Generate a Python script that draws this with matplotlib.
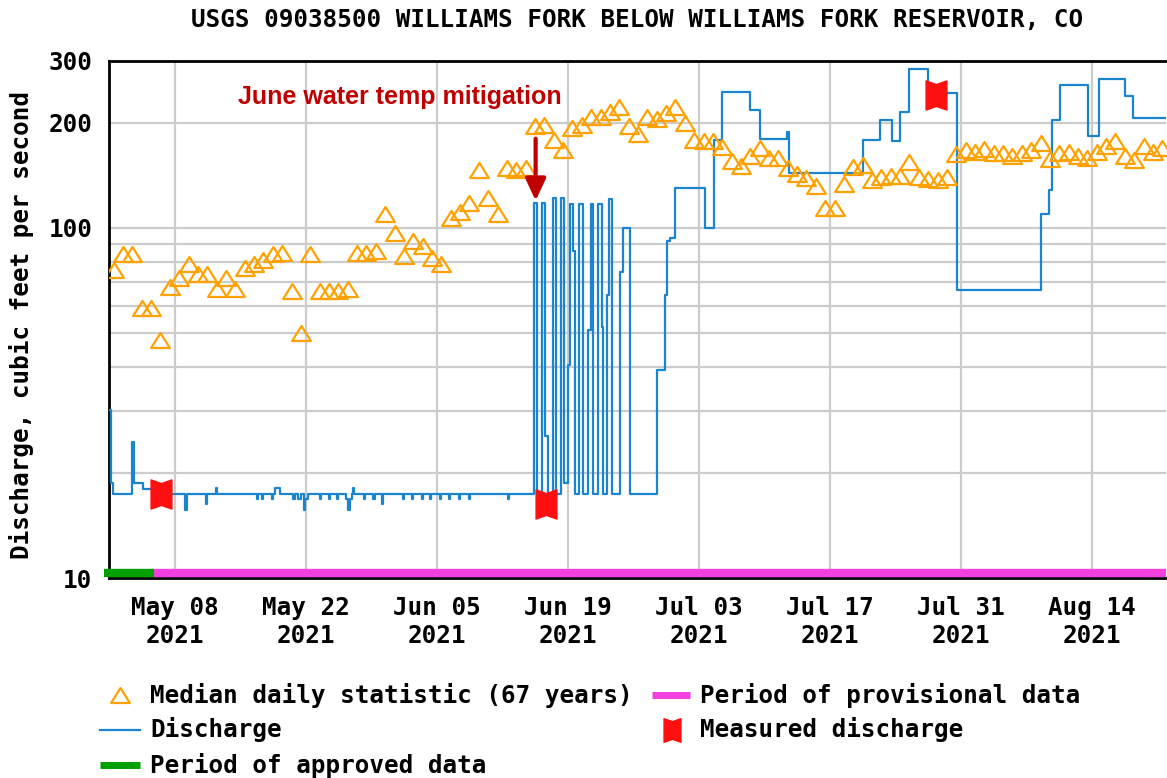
import numpy as np
import pandas as pd
import matplotlib
matplotlib.use('Agg')
import matplotlib.pyplot as plt
from matplotlib.path import Path
from matplotlib.lines import Line2D
from matplotlib.ticker import NullFormatter

start = pd.Timestamp('2021-05-01')

# median daily statistic, one value per day from May 01
median_cfs = [76, 84, 84, 59, 59, 48, 68, 72, 79, 74, 74, 67, 72, 67, 77, 79, 81, 84, 85, 66,
              50, 84, 66, 66, 66, 67, 85, 85, 86, 110, 97, 83, 92, 89, 82, 79, 107, 111, 118, 146,
              122, 110, 148, 146, 148, 195, 197, 178, 167, 193, 197, 208, 208, 215, 221, 196, 186, 208, 205, 213,
              222, 200, 178, 177, 177, 170, 155, 150, 161, 169, 159, 159, 148, 143, 139, 132, 114, 114, 134, 149,
              151, 137, 140, 141, 141, 154, 140, 138, 137, 140, 163, 167, 165, 168, 164, 164, 161, 164, 167, 175,
              157, 164, 165, 161, 158, 165, 172, 177, 161, 156, 172, 165, 169]

# discharge, step changes: days since May 01 00:00 and cfs
q_days = [0.0, 0.2, 0.45, 2.5, 2.62, 3.6, 4.7,
          8.1, 8.3, 10.4, 10.5, 11.4, 11.5, 15.8, 15.9, 16.3, 16.4, 17.4, 17.5, 17.7, 18.3,
          19.6, 19.9, 20.2, 20.5, 20.8, 20.9, 21.3, 22.5, 22.6, 23.5, 23.6, 24.4, 24.5,
          25.3, 25.5, 25.7, 26.0, 26.1, 26.2, 27.2, 27.3, 28.2, 28.4, 29.2, 29.3,
          31.4, 31.5, 32.4, 32.5, 33.4, 33.5, 34.3, 34.4, 35.4, 35.5, 36.3, 36.4,
          37.4, 37.5, 38.4, 38.6, 42.6, 42.7,
          45.44, 45.69, 46.23, 46.58, 46.9, 47.47, 47.72, 48.26, 48.55, 48.61,
          49.07, 49.25, 49.6, 49.79, 50.25, 50.68, 51.21, 51.45, 51.74, 52.28, 52.7, 52.81,
          53.17, 53.45, 53.70, 54.6, 54.85, 55.66, 58.5, 59.4, 59.6, 59.9, 60.5, 63.7, 64.6,
          65.46, 68.5, 69.5, 72.4, 72.6, 80.5, 82.4, 83.6, 84.5, 85.5, 87.5, 88.0, 90.56,
          99.6, 100.4, 100.7, 101.6, 104.6, 105.7, 108.5, 109.4, 113.0]
q_cfs = [30.2, 18.7, 17.4, 24.4, 18.7, 18.0, 17.4,
         15.6, 17.4, 16.3, 17.4, 18.1, 17.4, 16.8, 17.4, 16.8, 17.4, 16.8, 17.4, 18.1, 17.4,
         16.8, 17.4, 16.8, 17.4, 15.6, 16.8, 17.4, 16.8, 17.4, 16.8, 17.4, 16.8, 17.4,
         16.8, 15.6, 16.8, 17.4, 18.1, 17.4, 16.8, 17.4, 16.8, 17.4, 16.3, 17.4,
         16.8, 17.4, 16.8, 17.4, 16.8, 17.4, 16.8, 17.4, 16.8, 17.4, 16.8, 17.4,
         16.8, 17.4, 16.8, 17.4, 16.8, 17.4,
         118, 17.4, 118, 25.5, 17.4, 122, 17.4, 122, 118, 18.7,
         40.7, 117, 86, 17.4, 117, 17.4, 51, 117, 17.4, 117, 52, 17.4,
         64.5, 121, 17.4, 75, 100, 17.4, 39.4, 64.5, 91.7, 93.5, 130.5, 100, 178,
         244, 218, 180, 188, 144, 178, 204, 177, 215, 284, 225, 243, 66.6,
         109.7, 128, 204, 256, 183, 266, 238, 206, 206]

meas_days = [5.56, 46.69, 88.35]
meas_cfs = [17.4, 16.3, 240]

approved_end = 4.8
x_end = 112.9

W, H = 1167, 778
font = 'DejaVu Sans Mono'
fs = 17.5


def day(t):
    return start + pd.to_timedelta(np.asarray(t, dtype=float), unit='D')


median_dates = pd.date_range('2021-05-01 12:00', periods=len(median_cfs), freq='D')

fig = plt.figure(figsize=(W / 100, H / 100), dpi=100)
ax = fig.add_axes([109 / W, 1 - 578 / H, 1057 / W, 517 / H])

tri = Path([(0, 0.8), (-1, -0.8), (1, -0.8), (0, 0.8)], closed=True)
meas = Path([(-1, -1.4), (0, -1.05), (1, -1.4), (1, 1.4), (0, 1.05),
             (-1, 1.4), (-1, -1.4)], closed=True)

ax.plot(day(q_days), q_cfs, drawstyle='steps-post', color='#1a84cf', lw=1.6, zorder=3)
ax.plot(median_dates, median_cfs, ls='none', marker=tri, ms=13.5, mfc='none',
        mec='#ffa200', mew=1.6, zorder=4)
ax.plot(day(meas_days), meas_cfs, ls='none', marker=meas, ms=21, color='#ff1010', zorder=5)

# period of approved / provisional data
xt = ax.get_xaxis_transform()
ax.plot(day([-0.55, approved_end]), [0.0097, 0.0097], transform=xt, color='#00a000',
        lw=6, solid_capstyle='butt', clip_on=False, zorder=6)
ax.plot(day([approved_end, x_end]), [0.0097, 0.0097], transform=xt, color='#f23fdf',
        lw=6, solid_capstyle='butt', clip_on=False, zorder=6)

ax.set_yscale('log')
ax.set_ylim(10, 300)
ax.set_xlim(day(0), day(x_end))
ax.set_yticks([10, 100, 200, 300])
ax.set_yticklabels(['10', '100', '200', '300'])
ax.set_yticks([20, 30, 40, 50, 60, 70, 80, 90], minor=True)
ax.yaxis.set_minor_formatter(NullFormatter())

xticks = pd.date_range('2021-05-08', periods=8, freq='14D')
ax.set_xticks(xticks)
ax.set_xticklabels([d.strftime('%b %d\n%Y') for d in xticks])

ax.grid(True, which='both', color='#cccccc', lw=1.6, zorder=0)
ax.set_axisbelow(True)
ax.tick_params(which='both', length=0)
ax.tick_params(axis='x', pad=13)
ax.tick_params(axis='y', pad=12)
for lab in ax.get_xticklabels() + ax.get_yticklabels():
    lab.set_fontfamily(font)
    lab.set_fontweight('bold')
    lab.set_fontsize(fs)
for s in ['left', 'top', 'bottom']:
    ax.spines[s].set_linewidth(2)
    ax.spines[s].set_color('black')
ax.spines['right'].set_visible(False)

ax.annotate('', xy=(day(45.57), 119.7), xytext=(day(45.57), 180),
            arrowprops=dict(arrowstyle='-|>,head_length=0.6,head_width=0.28', color='#c00000',
                            lw=3, mutation_scale=22, shrinkA=0, shrinkB=0), zorder=7)
ax.text(day(31.1), 226, 'June water temp mitigation', color='#c00000', fontsize=18,
        fontweight='bold', family='Liberation Sans', ha='center', va='baseline', zorder=7)

fig.text(637 / W, 1 - 20 / H, 'USGS 09038500 WILLIAMS FORK BELOW WILLIAMS FORK RESERVOIR, CO',
         ha='center', va='center', family=font, fontweight='bold', fontsize=fs)
fig.text(22 / W, 1 - 325 / H, 'Discharge, cubic feet per second', rotation=90,
         ha='center', va='center', family=font, fontweight='bold', fontsize=fs)

# legend
def ly(y):
    return 1 - y / H

fig.add_artist(Line2D([120 / W], [ly(695)], marker=tri, ms=13.5, mfc='none', mec='#ffa200', mew=1.6))
fig.add_artist(Line2D([100 / W, 140 / W], [ly(730)] * 2, color='#1a84cf', lw=1.6))
fig.add_artist(Line2D([100 / W, 140 / W], [ly(765)] * 2, color='#00a000', lw=5, solid_capstyle='butt'))
fig.add_artist(Line2D([652 / W, 690 / W], [ly(695)] * 2, color='#f23fdf', lw=5, solid_capstyle='butt'))
fig.add_artist(Line2D([672 / W], [ly(730)], marker=meas, ms=17, color='#ff1010', ls='none'))

leg_items = [(150, 695, 'Median daily statistic (67 years)'),
             (150, 730, 'Discharge'),
             (150, 765, 'Period of approved data'),
             (700, 695, 'Period of provisional data'),
             (700, 730, 'Measured discharge')]
for x, y, s in leg_items:
    fig.text(x / W, ly(y), s, ha='left', va='center', family=font, fontweight='bold', fontsize=fs)

fig.savefig('out.png', dpi=100)
